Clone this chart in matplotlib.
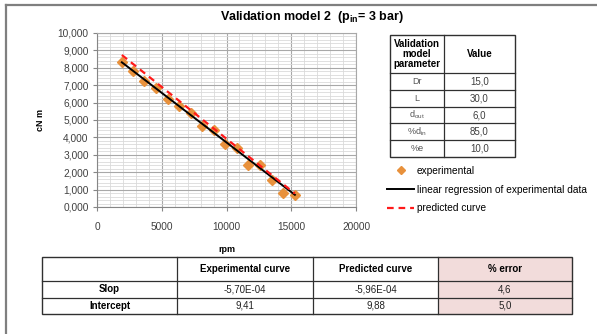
import numpy as np
import matplotlib.pyplot as plt
from matplotlib.lines import Line2D
from matplotlib.patches import Rectangle
from matplotlib.ticker import MultipleLocator, FuncFormatter

plt.rcParams['font.family'] = ['Liberation Sans', 'DejaVu Sans']
plt.rcParams['mathtext.fontset'] = 'custom'
plt.rcParams['mathtext.rm'] = 'Liberation Sans'
plt.rcParams['mathtext.bf'] = 'Liberation Sans:bold'

# datos experimentales (rpm, cNm)
rpm = [1920, 2750, 3640, 4540, 5460, 6330, 7230, 8130, 9030, 9900,
       10820, 11690, 12620, 13490, 14390, 15280]
torque = [8.33, 7.83, 7.25, 6.83, 6.23, 5.81, 5.38, 4.67, 4.42, 3.63,
          3.37, 2.42, 2.42, 1.54, 0.81, 0.71]

# tabla de parametros
param_names = ['Dr', 'L', r'd$_{\mathrm{out}}$', r'%d$_{\mathrm{in}}$', '%e']
param_values = [15.0, 30.0, 6.0, 85.0, 10.0]

# tabla de resultados (pendiente, ordenada)
row_labels = ['Slop', 'Intercept']
col_labels = ['Experimental curve', 'Predicted curve', '% error']
exp_curve = [-5.70e-4, 9.41]
pred_curve = [-5.96e-4, 9.88]
pct_error = [4.6, 5.0]


def coma(s):
    return s.replace('.', ',')


fig = plt.figure(figsize=(5.97, 3.34), dpi=100)
ax = fig.add_axes([97/597, 1-207/334, 259/597, 174/334])

x = np.array(rpm)
xr = np.array([x.min(), x.max()])
ax.plot(xr, exp_curve[1] + exp_curve[0]*xr, color='black', lw=1.4, zorder=3,
        label='linear regression of experimental data')
ax.plot(xr, pred_curve[1] + pred_curve[0]*xr, color='#ff1a1a', lw=1.6,
        dashes=(3, 2.2), zorder=4, label='predicted curve')
ax.plot(rpm, torque, 'D', color='#e8913c', ms=5, mec='#e8913c', zorder=2,
        label='experimental')

ax.set_xlim(0, 20000)
ax.set_ylim(0, 10)
ax.xaxis.set_major_locator(MultipleLocator(5000))
ax.xaxis.set_minor_locator(MultipleLocator(1000))
ax.yaxis.set_major_locator(MultipleLocator(1))
ax.yaxis.set_minor_locator(MultipleLocator(0.2))
ax.yaxis.set_major_formatter(FuncFormatter(lambda v, p: coma(f'{v:.3f}')))
ax.grid(which='major', color='#a8a8a8', lw=0.8)
ax.grid(which='minor', color='#dadada', lw=0.6)
ax.set_axisbelow(True)
ax.tick_params(which='major', length=3, width=0.8, color='#868686',
               labelsize=7.3, labelcolor='#404040', pad=3)
ax.tick_params(axis='x', pad=8)
ax.tick_params(which='minor', length=0)
for s in ax.spines.values():
    s.set_color('#a8a8a8')
    s.set_linewidth(0.8)
ax.spines['left'].set_color('#868686')
ax.spines['bottom'].set_color('#868686')

ax.set_ylabel('cN m', fontsize=6.5, fontweight='bold')
ax.yaxis.set_label_coords(-0.2, 0.5)
ax.set_xlabel('rpm', fontsize=6.5, fontweight='bold')
ax.xaxis.set_label_coords(0.5, -0.218)

fig.text(312/597, 1-17/334, r'Validation model 2  (p$_{\mathbf{in}}$= 3 bar)',
         fontsize=9, fontweight='bold', ha='center', va='center')

h, l = ax.get_legend_handles_labels()
orden = [2, 0, 1]
fig.legend([h[i] for i in orden], [l[i] for i in orden], loc='upper left',
           bbox_to_anchor=(387/597, 1-166/334), bbox_transform=fig.transFigure,
           frameon=False, fontsize=7.3, handlelength=2.7, handletextpad=0.25,
           labelspacing=0.85, borderpad=0, borderaxespad=0, markerscale=0.8)

# capa para tablas y marco (coordenadas en pixeles)
ov = fig.add_axes([0, 0, 1, 1])
ov.set_xlim(0, 597)
ov.set_ylim(334, 0)
ov.axis('off')
ov.patch.set_visible(False)

ov.add_line(Line2D([6, 6], [5, 334], color='#7f7f7f', lw=1.6))
ov.add_line(Line2D([6, 597], [5, 5], color='#7f7f7f', lw=1.6))

# tabla de parametros
px = [390, 444, 515]
py = [35, 73] + [73 + 16.8*(i+1) for i in range(len(param_names))]
ov.add_patch(Rectangle((px[0], py[0]), px[2]-px[0], py[-1]-py[0],
                       fill=False, ec='#303030', lw=1.0))
ov.add_line(Line2D([px[1], px[1]], [py[0], py[-1]], color='#303030', lw=0.9))
for yy in py[1:-1]:
    ov.add_line(Line2D([px[0], px[2]], [yy, yy], color='#303030', lw=0.9))
ov.text((px[0]+px[1])/2, (py[0]+py[1])/2, 'Validation\nmodel\nparameter',
        ha='center', va='center', fontsize=7, fontweight='bold', linespacing=1.0)
ov.text((px[1]+px[2])/2, (py[0]+py[1])/2, 'Value', ha='center', va='center',
        fontsize=7, fontweight='bold')
for i, (n, v) in enumerate(zip(param_names, param_values)):
    yc = (py[i+1]+py[i+2])/2
    ov.text((px[0]+px[1])/2, yc, n, ha='center', va='center', fontsize=6.5,
            color='#555555')
    ov.text((px[1]+px[2])/2, yc, coma(f'{v:.1f}'), ha='center', va='center',
            fontsize=7, color='#404040')

# tabla de resultados
bx = [42, 177, 313, 438, 572]
by = [257, 281, 298, 314]
ov.add_patch(Rectangle((bx[3], by[0]), bx[4]-bx[3], by[3]-by[0],
                       fc='#f2dcdb', ec='none'))
ov.add_patch(Rectangle((bx[0], by[0]), bx[4]-bx[0], by[3]-by[0],
                       fill=False, ec='#303030', lw=1.0))
for xx in bx[1:-1]:
    ov.add_line(Line2D([xx, xx], [by[0], by[3]], color='#303030', lw=0.9))
for yy in by[1:-1]:
    ov.add_line(Line2D([bx[0], bx[4]], [yy, yy], color='#303030', lw=0.9))
for j, c in enumerate(col_labels):
    ov.text((bx[j+1]+bx[j+2])/2, (by[0]+by[1])/2, c, ha='center', va='center',
            fontsize=7, fontweight='bold')
celdas = [[coma(f'{exp_curve[0]:.2E}'), coma(f'{pred_curve[0]:.2E}'), coma(f'{pct_error[0]:.1f}')],
          [coma(f'{exp_curve[1]:.2f}'), coma(f'{pred_curve[1]:.2f}'), coma(f'{pct_error[1]:.1f}')]]
for i, r in enumerate(row_labels):
    yc = (by[i+1]+by[i+2])/2
    ov.text((bx[0]+bx[1])/2, yc, r, ha='center', va='center', fontsize=7,
            fontweight='bold')
    for j, t in enumerate(celdas[i]):
        ov.text((bx[j+1]+bx[j+2])/2, yc, t, ha='center', va='center',
                fontsize=7, color='#222222')

fig.savefig('out.png', dpi=100)
